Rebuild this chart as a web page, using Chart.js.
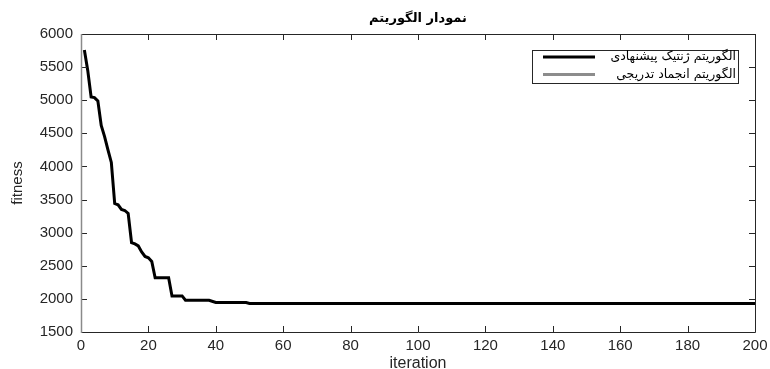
<!DOCTYPE html>
<html>
<head>
<meta charset="utf-8">
<script src="https://cdn.jsdelivr.net/npm/chart.js@4"></script>
<style>
  html, body { margin: 0; padding: 0; background: #fff; }
  .wrap { width: 770px; height: 369px; position: relative; }
</style>
</head>
<body>
<div class="wrap"><canvas id="c"></canvas></div>
<script>
// values
const iterations = [1, 2, 3, 4, 5, 6, 7, 8, 9, 10, 11, 12, 13, 14, 15, 16, 17, 18, 19, 20, 21, 22, 26, 27, 30, 31, 38, 40, 49, 50, 200];
const geneticFitness = [5760, 5450, 5050, 5040, 4990, 4620, 4450, 4250, 4060, 3440, 3420, 3350, 3335, 3290, 2850, 2830, 2800, 2710, 2640, 2620, 2565, 2320, 2320, 2045, 2045, 1980, 1980, 1945, 1945, 1930, 1930];
const annealingFitness = [];
const seriesNames = ["الگوریتم ژنتیک پیشنهادی", "الگوریتم انجماد تدریجی"];
const xTicks = [0, 20, 40, 60, 80, 100, 120, 140, 160, 180, 200];
const yTicks = [1500, 2000, 2500, 3000, 3500, 4000, 4500, 5000, 5500, 6000];
const chartTitle = "نمودار الگوریتم";

const axisColor = "#262626";
const font = "'Liberation Sans', Arial, sans-serif";

// MATLAB-like box with inward ticks, title and legend
const matlabBox = {
  id: "matlabBox",
  afterDatasetsDraw(chart) {
    const { ctx, chartArea: a, scales } = chart;
    const L = 6;
    ctx.save();
    ctx.strokeStyle = axisColor;
    ctx.lineWidth = 1;
    ctx.beginPath();
    xTicks.forEach(v => {
      const px = Math.round(scales.x.getPixelForValue(v)) + 0.5;
      ctx.moveTo(px, a.bottom); ctx.lineTo(px, a.bottom - L);
      ctx.moveTo(px, a.top); ctx.lineTo(px, a.top + L);
    });
    yTicks.forEach(v => {
      const py = Math.round(scales.y.getPixelForValue(v)) + 0.5;
      ctx.moveTo(a.left, py); ctx.lineTo(a.left + L, py);
      ctx.moveTo(a.right, py); ctx.lineTo(a.right - L, py);
    });
    ctx.stroke();
    // frame
    ctx.beginPath();
    ctx.moveTo(a.left, a.bottom + 0.5); ctx.lineTo(a.right + 0.5, a.bottom + 0.5);
    ctx.lineTo(a.right + 0.5, a.top + 0.5); ctx.lineTo(a.left, a.top + 0.5);
    ctx.stroke();
    ctx.strokeStyle = "#8a8a8a";
    ctx.lineWidth = 1.5;
    ctx.beginPath();
    ctx.moveTo(a.left + 0.5, a.top); ctx.lineTo(a.left + 0.5, a.bottom + 1);
    ctx.stroke();

    // title
    ctx.fillStyle = "#000";
    ctx.font = "bold 13px 'DejaVu Sans', sans-serif";
    ctx.textAlign = "center";
    ctx.textBaseline = "middle";
    ctx.fillText(chartTitle, (a.left + a.right) / 2, 19);

    // legend
    const bx = 532, by = 50, bw = 206, bh = 33;
    ctx.fillStyle = "#fff";
    ctx.fillRect(bx, by, bw, bh);
    ctx.strokeStyle = axisColor;
    ctx.lineWidth = 1;
    ctx.strokeRect(bx + 0.5, by + 0.5, bw, bh);
    ctx.font = "12.5px 'DejaVu Sans', sans-serif";
    ctx.textAlign = "right";
    chart.data.datasets.forEach((ds, i) => {
      const y = by + 7 + i * 17.5;
      ctx.strokeStyle = ds.borderColor;
      ctx.lineWidth = 3;
      ctx.beginPath();
      ctx.moveTo(543, y); ctx.lineTo(595, y);
      ctx.stroke();
      ctx.fillStyle = "#000";
      ctx.fillText(ds.label, 736, y);
    });
    ctx.restore();
  }
};

new Chart(document.getElementById("c"), {
  type: "line",
  data: {
    datasets: [
      {
        label: seriesNames[0],
        data: iterations.map((x, i) => ({ x: x, y: geneticFitness[i] })),
        borderColor: "#000000",
        borderWidth: 3,
        pointRadius: 0,
        tension: 0,
      },
      {
        label: seriesNames[1],
        data: annealingFitness,
        borderColor: "#8c8c8c",
        borderWidth: 3,
        pointRadius: 0,
      },
    ],
  },
  options: {
    responsive: true,
    maintainAspectRatio: false,
    animation: false,
    layout: { padding: { top: 34, right: 15, left: 0, bottom: 0 } },
    plugins: {
      legend: { display: false },
      tooltip: { enabled: false },
    },
    scales: {
      x: {
        type: "linear",
        min: 0,
        max: 200,
        afterBuildTicks: s => { s.ticks = xTicks.map(v => ({ value: v })); },
        afterFit: s => { s.height = 37; s.paddingRight = 0; s.paddingLeft = 0; },
        grid: { display: false, drawTicks: false, tickLength: 0 },
        border: { display: false },
        ticks: { color: axisColor, font: { family: font, size: 15 }, padding: 5, maxRotation: 0 },
        title: { display: true, text: "iteration", color: axisColor, font: { family: font, size: 16, lineHeight: 1 }, padding: { top: 0, bottom: -3 } },
      },
      y: {
        min: 1500,
        max: 6000,
        afterBuildTicks: s => { s.ticks = yTicks.map(v => ({ value: v })); },
        afterFit: s => { s.width = 81; s.paddingTop = 0; s.paddingBottom = 0; },
        grid: { display: false, drawTicks: false, tickLength: 0 },
        border: { display: false },
        ticks: { color: axisColor, font: { family: font, size: 15 }, padding: 8, callback: v => String(v) },
        title: { display: true, text: "fitness", color: axisColor, font: { family: font, size: 15, lineHeight: 1 }, padding: { top: 10, bottom: 0 } },
      },
    },
  },
  plugins: [matlabBox],
});
</script>
</body>
</html>
